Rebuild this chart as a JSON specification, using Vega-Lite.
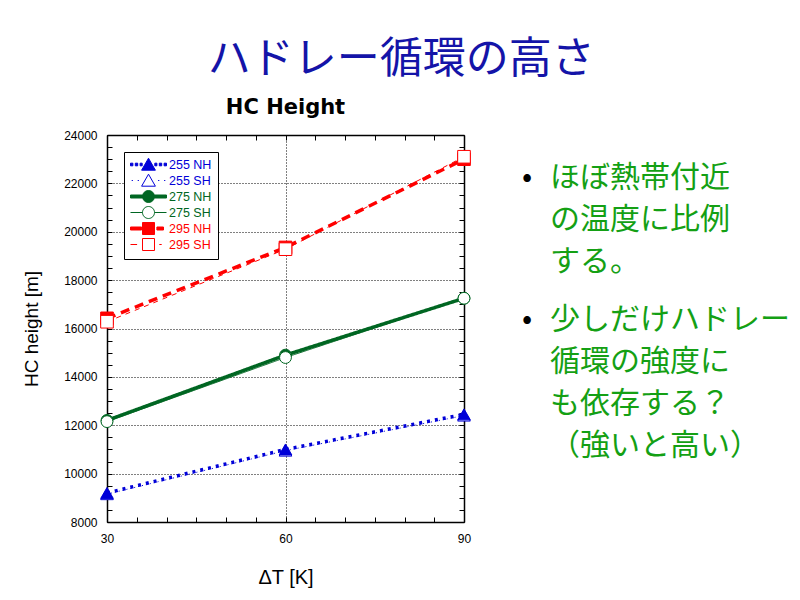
{
  "$schema": "https://vega.github.io/schema/vega-lite/v6.json",
  "background": "white",
  "padding": {"left": 22, "top": 39, "right": 5, "bottom": 5},
  "title": {"text": "ハドレー循環の高さ", "font": "Noto Sans CJK JP", "fontSize": 43, "fontWeight": "normal", "color": "#1414a8", "anchor": "middle", "offset": 15, "dx": -5},
  "spacing": 21,
  "hconcat": [
    {
      "width": 357,
      "height": 387,
      "title": {"text": "HC Height", "font": "DejaVu Sans", "fontSize": 21, "fontWeight": "bold", "color": "black", "anchor": "middle", "frame": "group", "offset": 11},
      "data": {"values": [
        {"series": "255 NH", "dT": 30, "height": 9200},
        {"series": "255 NH", "dT": 60, "height": 11000},
        {"series": "255 NH", "dT": 90, "height": 12450},
        {"series": "275 NH", "dT": 30, "height": 12200},
        {"series": "275 NH", "dT": 60, "height": 14900},
        {"series": "275 NH", "dT": 90, "height": 17250},
        {"series": "295 NH", "dT": 30, "height": 16420},
        {"series": "295 NH", "dT": 60, "height": 19350},
        {"series": "295 NH", "dT": 90, "height": 23000},
        {"series": "255 SH", "dT": 30, "height": 9150},
        {"series": "255 SH", "dT": 60, "height": 10950},
        {"series": "255 SH", "dT": 90, "height": 12400},
        {"series": "275 SH", "dT": 30, "height": 12150},
        {"series": "275 SH", "dT": 60, "height": 14800},
        {"series": "275 SH", "dT": 90, "height": 17250},
        {"series": "295 SH", "dT": 30, "height": 16280},
        {"series": "295 SH", "dT": 60, "height": 19280},
        {"series": "295 SH", "dT": 90, "height": 23100}
      ]},
      "layer": [
        {
          "transform": [{"filter": "indexof(datum.series, 'NH') >= 0"}],
          "mark": {"type": "line", "strokeWidth": 3.5},
          "encoding": {
            "x": {"field": "dT", "type": "quantitative",
              "scale": {"domain": [30, 90], "nice": false, "zero": false},
              "axis": {"orient": "bottom", "values": [30, 35, 40, 45, 50, 55, 60, 65, 70, 75, 80, 85, 90],
                "labelExpr": "datum.value % 30 === 0 ? datum.label : ''",
                "tickSize": -5, "labelPadding": 16,
                "grid": true, "gridOpacity": {"condition": {"test": "datum.value === 60", "value": 1}, "value": 0},
                "title": "ΔT [K]", "titleFontSize": 20, "titlePadding": 23}},
            "y": {"field": "height", "type": "quantitative",
              "scale": {"domain": [8000, 24000], "nice": false, "zero": false},
              "axis": {"orient": "left", "format": "d",
                "values": [8000, 8500, 9000, 9500, 10000, 10500, 11000, 11500, 12000, 12500, 13000, 13500, 14000, 14500, 15000, 15500, 16000, 16500, 17000, 17500, 18000, 18500, 19000, 19500, 20000, 20500, 21000, 21500, 22000, 22500, 23000, 23500, 24000],
                "labelExpr": "datum.value % 2000 === 0 ? datum.label : ''",
                "tickSize": -5, "labelPadding": 15,
                "grid": true, "gridOpacity": {"condition": {"test": "datum.value % 2000 === 0", "value": 1}, "value": 0},
                "title": "HC height [m]", "titleFontSize": 19, "titlePadding": 22}},
            "detail": {"field": "series", "type": "nominal"},
            "stroke": {"field": "series", "type": "nominal",
              "scale": {"domain": ["255 NH", "255 SH", "275 NH", "275 SH", "295 NH", "295 SH"],
                "range": ["#0000d8", "#0000d8", "#006622", "#006622", "#ff0000", "#ff0000"]},
              "legend": {"title": null,
                "encode": {"labels": {"update": {"fill": [
                  {"test": "indexof(datum.label, '255') >= 0", "value": "#0000d8"},
                  {"test": "indexof(datum.label, '275') >= 0", "value": "#006622"},
                  {"value": "#ff0000"}]}}}}},
            "strokeDash": {"field": "series", "type": "nominal",
              "scale": {"domain": ["295 SH", "295 NH", "275 SH", "275 NH", "255 SH", "255 NH"],
                "range": [[5, 5], [9, 6], [1, 0], [1, 0], [1, 3], [3, 5]]},
              "legend": null}
          }
        },
        {
          "transform": [{"filter": "indexof(datum.series, 'SH') >= 0"}],
          "mark": {"type": "line", "strokeWidth": 1},
          "encoding": {
            "x": {"field": "dT", "type": "quantitative", "axis": null},
            "y": {"field": "height", "type": "quantitative", "axis": null},
            "detail": {"field": "series", "type": "nominal"},
            "stroke": {"field": "series", "type": "nominal", "legend": {"title": null}},
            "strokeDash": {"field": "series", "type": "nominal", "legend": null}
          }
        },
        {
          "transform": [{"filter": "indexof(datum.series, '255') >= 0"}],
          "mark": {"type": "point", "shape": "triangle-up", "size": 160, "filled": true, "opacity": 1, "strokeWidth": 1},
          "encoding": {
            "x": {"field": "dT", "type": "quantitative", "axis": null},
            "y": {"field": "height", "type": "quantitative", "axis": null},
            "order": {"field": "series", "type": "nominal", "sort": "descending"},
            "stroke": {"field": "series", "type": "nominal", "legend": {"title": null}},
            "fill": {"field": "series", "type": "nominal",
              "scale": {"domain": ["255 NH", "255 SH", "275 NH", "275 SH", "295 NH", "295 SH"],
                "range": ["#0000d8", "white", "#006622", "white", "#ff0000", "white"]},
              "legend": {"title": null}}
          }
        },
        {
          "transform": [{"filter": "indexof(datum.series, '275') >= 0"}],
          "mark": {"type": "point", "shape": "circle", "size": 140, "filled": true, "opacity": 1, "strokeWidth": 1},
          "encoding": {
            "x": {"field": "dT", "type": "quantitative", "axis": null},
            "y": {"field": "height", "type": "quantitative", "axis": null},
            "stroke": {"field": "series", "type": "nominal", "legend": {"title": null}},
            "fill": {"field": "series", "type": "nominal", "legend": {"title": null}}
          }
        },
        {
          "transform": [{"filter": "indexof(datum.series, '295') >= 0"}],
          "mark": {"type": "point", "shape": "square", "size": 160, "filled": true, "opacity": 1, "strokeWidth": 1},
          "encoding": {
            "x": {"field": "dT", "type": "quantitative", "axis": null},
            "y": {"field": "height", "type": "quantitative", "axis": null},
            "stroke": {"field": "series", "type": "nominal", "legend": {"title": null}},
            "fill": {"field": "series", "type": "nominal", "legend": {"title": null}}
          }
        },
        {
          "transform": [{"filter": "false"}],
          "mark": {"type": "point", "filled": true, "opacity": 1, "size": 144, "strokeWidth": 1},
          "encoding": {
            "x": {"field": "dT", "type": "quantitative",
              "axis": {"orient": "top", "values": [30, 35, 40, 45, 50, 55, 60, 65, 70, 75, 80, 85, 90], "labels": false, "tickSize": -5, "title": null, "grid": false}},
            "y": {"field": "height", "type": "quantitative",
              "axis": {"orient": "right", "values": [8000, 8500, 9000, 9500, 10000, 10500, 11000, 11500, 12000, 12500, 13000, 13500, 14000, 14500, 15000, 15500, 16000, 16500, 17000, 17500, 18000, 18500, 19000, 19500, 20000, 20500, 21000, 21500, 22000, 22500, 23000, 23500, 24000], "labels": false, "tickSize": -5, "title": null, "grid": false}},
            "shape": {"field": "series", "type": "nominal",
              "scale": {"domain": ["255 NH", "255 SH", "275 NH", "275 SH", "295 NH", "295 SH"],
                "range": [
                  "M0,-1.05L1.15,0.95L-1.15,0.95Z M-3,-0.22H-2.6V0.22H-3Z M-2.2,-0.22H-1.8V0.22H-2.2Z M-1.4,-0.22H-1.05V0.22H-1.4Z M1.05,-0.22H1.4V0.22H1.05Z M1.8,-0.22H2.2V0.22H1.8Z M2.6,-0.22H3V0.22H2.6Z",
                  "M0,-1.05L1.15,0.95L-1.15,0.95Z M-2.8,0H-2.6 M-1.8,0H-1.6 M1.6,0H1.8 M2.6,0H2.8",
                  "M-1,0A1,1 0 1,1 1,0A1,1 0 1,1 -1,0Z M-3,-0.25H-1V0.25H-3Z M1,-0.25H3V0.25H1Z",
                  "M-1,0A1,1 0 1,1 1,0A1,1 0 1,1 -1,0Z M-3,0H-1 M1,0H3",
                  "M-1,-1H1V1H-1Z M-3,-0.25H-1.15V0.25H-3Z M1.4,-0.25H2.5V0.25H1.4Z",
                  "M-1,-1H1V1H-1Z M-3,0H-1.9 M1.8,0H2.2"
                ]},
              "legend": {"title": null,
                "encode": {"labels": {"update": {"fill": [
                  {"test": "indexof(datum.label, '255') >= 0", "value": "#0000d8"},
                  {"test": "indexof(datum.label, '275') >= 0", "value": "#006622"},
                  {"value": "#ff0000"}]}}}}},
            "stroke": {"field": "series", "type": "nominal", "legend": {"title": null}},
            "fill": {"field": "series", "type": "nominal", "legend": {"title": null}}
          }
        }
      ],
      "resolve": {"axis": {"x": "independent", "y": "independent"}}
    },
    {
      "width": 290,
      "height": 387,
      "data": {"values": [
        {"item": 1, "sub": 0, "part": "bullet", "text": "•"},
        {"item": 1, "sub": 0, "part": "text", "text": "ほぼ熱帯付近"},
        {"item": 1, "sub": 1, "part": "text", "text": "の温度に比例"},
        {"item": 1, "sub": 2, "part": "text", "text": "する。"},
        {"item": 2, "sub": 0, "part": "bullet", "text": "•"},
        {"item": 2, "sub": 0, "part": "text", "text": "少しだけハドレー"},
        {"item": 2, "sub": 1, "part": "text", "text": "循環の強度に"},
        {"item": 2, "sub": 2, "part": "text", "text": "も依存する？"},
        {"item": 2, "sub": 3, "part": "text", "text": "（強いと高い）"}
      ]},
      "mark": {"type": "text", "align": "left", "baseline": "middle", "font": "Noto Sans CJK JP", "fontSize": 30},
      "encoding": {
        "x": {"field": "part", "type": "nominal", "scale": {"type": "point", "domain": ["bullet", "text"], "range": [28, 56], "padding": 0}, "axis": null},
        "y": {"field": "item", "type": "ordinal", "scale": {"type": "point", "domain": [1, 2], "range": [43, 185], "padding": 0}, "axis": null},
        "yOffset": {"field": "sub", "type": "ordinal", "scale": {"type": "point", "domain": [0, 1, 2, 3], "range": [0, 126], "padding": 0}},
        "text": {"field": "text", "type": "nominal"},
        "color": {"field": "part", "type": "nominal", "scale": {"domain": ["bullet", "text"], "range": ["black", "#14a014"]}, "legend": null}
      }
    }
  ],
  "config": {
    "view": {"stroke": null},
    "axis": {"labelFont": "Liberation Sans", "labelFontSize": 12, "labelColor": "black",
      "titleFont": "Liberation Sans", "titleFontWeight": "normal", "titleColor": "black",
      "domainColor": "black", "domainWidth": 1.5, "tickColor": "black", "tickWidth": 1,
      "labelFlush": false, "labelOverlap": false,
      "gridColor": "black", "gridDash": [1, 2], "gridWidth": 1},
    "legend": {"orient": "top-left", "offset": 17, "padding": 6, "strokeColor": "black", "fillColor": "white",
      "symbolSize": 144, "symbolStrokeWidth": 1, "symbolOffset": 12, "labelOffset": 14,
      "labelFont": "Liberation Sans", "labelFontSize": 12.5, "rowPadding": -1}
  }
}
